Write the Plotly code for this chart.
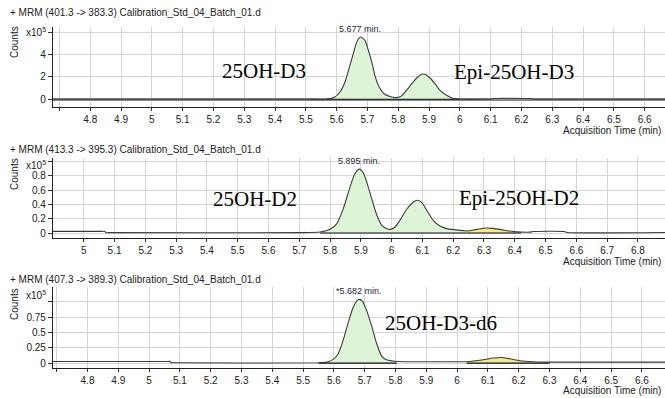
import plotly.graph_objects as go

# ---------------- data ----------------
titles = [
    "+ MRM (401.3 -> 383.3) Calibration_Std_04_Batch_01.d",
    "+ MRM (413.3 -> 395.3) Calibration_Std_04_Batch_01.d",
    "+ MRM (407.3 -> 389.3) Calibration_Std_04_Batch_01.d",
]

# Panel 1: 25OH-D3 / Epi-25OH-D3  (counts x10^5)
t1 = [4.679, 5.50, 5.567, 5.594, 5.611, 5.627, 5.643, 5.654, 5.665, 5.677, 5.692, 5.703,
      5.714, 5.724, 5.738, 5.757, 5.779, 5.795, 5.811, 5.827, 5.844, 5.860, 5.876, 5.887,
      5.903, 5.919, 5.935, 5.957, 5.979, 6.000, 6.10, 6.103, 6.107, 6.227, 6.231, 6.235, 6.24, 6.666]
v1 = [0.0, 0.0, 0.0, 0.21, 0.65, 1.54, 3.03, 4.07, 5.10, 5.55, 5.25, 4.36,
      3.32, 2.14, 1.10, 0.42, 0.21, 0.15, 0.30, 0.80, 1.39, 1.90, 2.23, 2.23,
      1.90, 1.39, 0.80, 0.36, 0.06, 0.0, 0.0, 0.0, 0.07, 0.07, 0.07, 0.0, 0.0, 0.0]

# Panel 2: 25OH-D2 / Epi-25OH-D2
t2 = [4.90, 5.06, 5.068, 5.072, 5.08, 5.70, 5.768, 5.800, 5.822, 5.843, 5.860, 5.876, 5.887, 5.895,
      5.906, 5.919, 5.935, 5.952, 5.968, 5.984, 5.997, 6.011, 6.027, 6.049, 6.071, 6.083,
      6.098, 6.114, 6.135, 6.157, 6.179, 6.200, 6.233, 6.244, 6.276, 6.309, 6.330, 6.363,
      6.395, 6.42, 6.45, 6.46, 6.56, 6.57, 6.888]
v2 = [0.023, 0.023, 0.023, 0.005, 0.005, 0.005, 0.014, 0.051, 0.131, 0.342, 0.575, 0.786, 0.870, 0.894,
      0.856, 0.716, 0.482, 0.248, 0.108, 0.061, 0.051, 0.084, 0.178, 0.332, 0.435, 0.458,
      0.426, 0.318, 0.178, 0.098, 0.061, 0.047, 0.033, 0.028, 0.051, 0.070, 0.065, 0.042,
      0.019, 0.012, 0.012, 0.02, 0.02, 0.008, 0.008]

# Panel 3: 25OH-D3-d6
t3 = [4.688, 5.06, 5.068, 5.072, 5.08, 5.55, 5.577, 5.598, 5.614, 5.630, 5.647, 5.663, 5.674, 5.682,
      5.693, 5.706, 5.722, 5.739, 5.755, 5.771, 5.793, 5.804, 6.00, 6.031, 6.085, 6.117,
      6.144, 6.171, 6.204, 6.247, 6.30, 6.675]
v3 = [0.027, 0.027, 0.027, 0.005, 0.005, 0.005, 0.016, 0.060, 0.152, 0.370, 0.668, 0.913, 1.011, 1.038,
      1.005, 0.859, 0.614, 0.315, 0.114, 0.054, 0.033, 0.027, 0.022, 0.022, 0.054, 0.082,
      0.092, 0.071, 0.038, 0.022, 0.015, 0.015]

times = [t1, t2, t3]
values = [v1, v2, v3]

# integrated windows (start, end) : green = main peaks, yellow = minor peaks
green_windows = [(5.567, 6.000), (5.768, 6.244), (5.55, 5.804)]
yellow_windows = [None, (6.244, 6.42), (6.031, 6.30)]

peak_labels = ["5.677 min.", "5.895 min.", "*5.682 min."]
peak_times = [5.677, 5.895, 5.682]

compound_names = [["25OH-D3", "Epi-25OH-D3"], ["25OH-D2", "Epi-25OH-D2"], ["25OH-D3-d6"]]

x_ranges = [[4.679, 6.666], [4.90, 6.888], [4.688, 6.675]]
y_ranges = [[-0.69, 6.45], [-0.07, 1.05], [-0.08, 1.24]]

x_ticks = [
    [4.7, 4.8, 4.9, 5.0, 5.1, 5.2, 5.3, 5.4, 5.5, 5.6, 5.7, 5.8, 5.9, 6.0, 6.1, 6.2, 6.3, 6.4, 6.5, 6.6],
    [5.0, 5.1, 5.2, 5.3, 5.4, 5.5, 5.6, 5.7, 5.8, 5.9, 6.0, 6.1, 6.2, 6.3, 6.4, 6.5, 6.6, 6.7, 6.8],
    [4.7, 4.8, 4.9, 5.0, 5.1, 5.2, 5.3, 5.4, 5.5, 5.6, 5.7, 5.8, 5.9, 6.0, 6.1, 6.2, 6.3, 6.4, 6.5, 6.6],
]
x_ticklabels = [
    ["", "4.8", "4.9", "5", "5.1", "5.2", "5.3", "5.4", "5.5", "5.6", "5.7", "5.8", "5.9", "6", "6.1", "6.2", "6.3", "6.4", "6.5", "6.6"],
    ["5", "5.1", "5.2", "5.3", "5.4", "5.5", "5.6", "5.7", "5.8", "5.9", "6", "6.1", "6.2", "6.3", "6.4", "6.5", "6.6", "6.7", "6.8"],
    ["", "4.8", "4.9", "5", "5.1", "5.2", "5.3", "5.4", "5.5", "5.6", "5.7", "5.8", "5.9", "6", "6.1", "6.2", "6.3", "6.4", "6.5", "6.6"],
]
y_ticks = [[0, 2, 4, 6], [0, 0.2, 0.4, 0.6, 0.8, 1.0], [0, 0.25, 0.5, 0.75, 1.0]]
y_ticklabels = [["0", "2", "4", ""], ["0", "0.2", "0.4", "0.6", "0.8", ""], ["0", "0.25", "0.5", "0.75", ""]]

# ---------------- layout helpers (pixel based) ----------------
W, H = 665, 398
def px(x): return x / W
def py(y): return 1 - y / H

plot_top = [27, 158, 287]
plot_bot = [107, 238, 368]
title_y = [12, 149, 279]
xlabel_y = [130, 261, 390]
counts_y = [42, 174, 304]
exp_y = [32, 165, 295]
name_pos = [[(264, 71), (514, 72)], [(255, 199), (519, 198)], [(441, 323)]]

GREEN = "#ddf4d7"
YELLOW = "#f1ea92"
LINE = "#3c3c3c"
GRID = "#d6d6d6"
FONT = "Liberation Sans, Arial, sans-serif"
SERIF = "Liberation Serif, Times New Roman, serif"

fig = go.Figure()
annotations = []
layout_axes = {}

for i in range(3):
    n = i + 1
    xa = "x" if n == 1 else f"x{n}"
    ya = "y" if n == 1 else f"y{n}"
    t, v = times[i], values[i]

    # green fill
    g0, g1 = green_windows[i]
    gt = [a for a in t if g0 <= a <= g1]
    gv = [b for a, b in zip(t, v) if g0 <= a <= g1]
    fig.add_trace(go.Scatter(x=gt, y=gv, mode="lines", line=dict(width=0, shape="spline", smoothing=0.8),
                             fill="tozeroy", fillcolor=GREEN, xaxis=xa, yaxis=ya, hoverinfo="skip", showlegend=False))
    fig.add_trace(go.Scatter(x=[g0, g1], y=[0, 0], mode="lines", line=dict(color="#111", width=1.2),
                             xaxis=xa, yaxis=ya, hoverinfo="skip", showlegend=False))
    if yellow_windows[i] is not None:
        y0, y1 = yellow_windows[i]
        yt = [a for a in t if y0 <= a <= y1]
        yv = [b for a, b in zip(t, v) if y0 <= a <= y1]
        fig.add_trace(go.Scatter(x=yt, y=yv, mode="lines", line=dict(width=0, shape="spline", smoothing=0.8),
                                 fill="tozeroy", fillcolor=YELLOW, xaxis=xa, yaxis=ya, hoverinfo="skip", showlegend=False))
        fig.add_trace(go.Scatter(x=[y0, y1], y=[0, 0], mode="lines", line=dict(color="#111", width=1.2),
                                 xaxis=xa, yaxis=ya, hoverinfo="skip", showlegend=False))

    # chromatogram trace
    fig.add_trace(go.Scatter(x=t, y=v, mode="lines", line=dict(color=LINE, width=1.1, shape="spline", smoothing=0.6),
                             xaxis=xa, yaxis=ya, showlegend=False))

    dom_y = [py(plot_bot[i]), py(plot_top[i])]
    layout_axes[f"xaxis{'' if n == 1 else n}"] = dict(
        domain=[px(53), 1.0], range=x_ranges[i], anchor=ya, automargin=False,
        tickmode="array", tickvals=x_ticks[i], ticktext=x_ticklabels[i],
        ticks="outside", ticklen=3, tickcolor="#333", tickwidth=1,
        showgrid=True, gridcolor=GRID, gridwidth=1,
        showline=True, linecolor="#222", linewidth=1.3, zeroline=False,
        tickfont=dict(family=FONT, size=10, color="#222"),
    )
    layout_axes[f"yaxis{'' if n == 1 else n}"] = dict(
        domain=dom_y, range=y_ranges[i], anchor=xa, automargin=False,
        tickmode="array", tickvals=y_ticks[i], ticktext=y_ticklabels[i],
        ticks="outside", ticklen=4, tickcolor="#333", tickwidth=1,
        showgrid=True, gridcolor=GRID, gridwidth=1,
        showline=True, linecolor="#222", linewidth=1.3,
        zeroline=(n == 1), zerolinecolor="#888", zerolinewidth=2.5,
        tickfont=dict(family=FONT, size=10, color="#222"),
    )

    annotations.append(dict(text=titles[i], x=px(8), y=py(title_y[i]), xref="paper", yref="paper",
                            xanchor="left", yanchor="middle", showarrow=False,
                            font=dict(family=FONT, size=10, color="#222")))
    annotations.append(dict(text="Acquisition Time (min)", x=px(663), y=py(xlabel_y[i]), xref="paper", yref="paper",
                            xanchor="right", yanchor="middle", showarrow=False,
                            font=dict(family=FONT, size=10, color="#222")))
    annotations.append(dict(text="Counts", x=px(14), y=py(counts_y[i]), xref="paper", yref="paper",
                            xanchor="center", yanchor="middle", textangle=-90, showarrow=False,
                            font=dict(family=FONT, size=10, color="#222")))
    annotations.append(dict(text="x10<sup>5</sup>", x=px(48), y=py(exp_y[i]), xref="paper", yref="paper",
                            xanchor="right", yanchor="middle", showarrow=False,
                            font=dict(family=FONT, size=10, color="#222")))
    # peak label
    pk = max(v)
    annotations.append(dict(text=peak_labels[i], x=peak_times[i], y=pk, xref=xa, yref=ya,
                            xanchor="center", yanchor="bottom", yshift=1, showarrow=False,
                            font=dict(family=FONT, size=9, color="#2a2a3a")))
    for name, (nx, ny) in zip(compound_names[i], name_pos[i]):
        annotations.append(dict(text=name, x=px(nx), y=py(ny), xref="paper", yref="paper",
                                xanchor="center", yanchor="middle", showarrow=False,
                                font=dict(family=SERIF, size=21, color="#000")))

fig.update_layout(
    template="none",
    width=W, height=H, margin=dict(l=0, r=0, t=0, b=0, pad=0),
    paper_bgcolor="white", plot_bgcolor="white",
    annotations=annotations, showlegend=False,
    **layout_axes,
)

fig.write_html("out.html", config={"displayModeBar": False},
               post_script="document.body.style.margin='0';document.body.style.overflow='hidden';")
